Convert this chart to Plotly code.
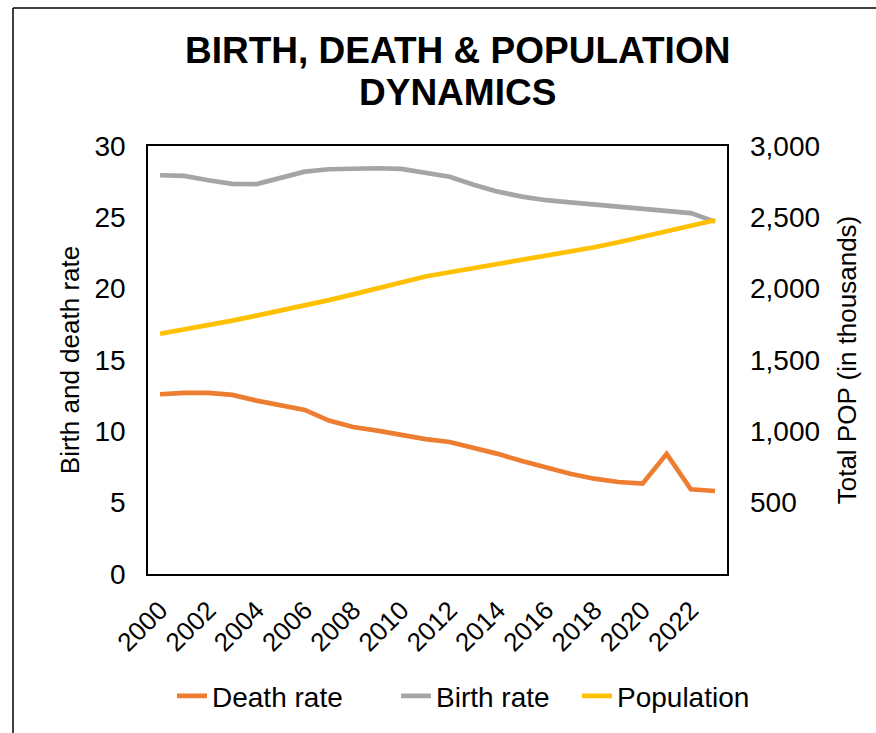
import plotly.graph_objects as go

years = list(range(2000, 2024))
death_rate = [12.6, 12.7, 12.7, 12.55, 12.15, 11.8, 11.5, 10.75, 10.3, 10.05, 9.72, 9.45,
              9.25, 8.85, 8.42, 7.92, 7.45, 7.03, 6.68, 6.45, 6.33, 8.42, 5.94, 5.82]
birth_rate = [27.95, 27.9, 27.6, 27.35, 27.33, 27.75, 28.2, 28.37, 28.44, 28.44, 28.4, 28.15,
              27.85, 27.28, 26.8, 26.45, 26.2, 26.05, 25.9, 25.77, 25.55, 25.47, 25.3, 24.7]
population = [1684, 1713, 1742, 1776, 1811, 1846, 1881, 1920, 1960, 2003, 2045, 2085,
              2115, 2143, 2170, 2198, 2226, 2256, 2290, 2325, 2365, 2405, 2445, 2480]
right_ticks = [500, 1000, 1500, 2000, 2500, 3000]
title_lines = ["BIRTH, DEATH & POPULATION", "DYNAMICS"]

FONT = "Liberation Sans, Arial, sans-serif"

fig = go.Figure()
fig.add_trace(go.Scatter(x=years, y=death_rate, name="Death rate", mode="lines",
                         line=dict(color="#ED7D31", width=4.7), legendwidth=179))
fig.add_trace(go.Scatter(x=years, y=birth_rate, name="Birth rate", mode="lines",
                         line=dict(color="#A5A5A5", width=4.7), legendwidth=136))
fig.add_trace(go.Scatter(x=years, y=population, name="Population", mode="lines",
                         line=dict(color="#FFC000", width=4.7), yaxis="y2"))

ml, mr, mt, mb = 148, 149, 146, 156
W, H = 876, 733
pw, ph = W - ml - mr, H - mt - mb

def px_x(p):
    return (p - ml) / pw

def px_y(p):
    return (H - mb - p) / ph

annotations = [
    dict(text="<b>%s</b>" % title_lines[0], xref="paper", yref="paper",
         x=px_x(457), y=px_y(50), xanchor="center", yanchor="middle", showarrow=False,
         font=dict(family=FONT, size=37, color="#000000")),
    dict(text="<b>%s</b>" % title_lines[1], xref="paper", yref="paper",
         x=px_x(457), y=px_y(92), xanchor="center", yanchor="middle", showarrow=False,
         font=dict(family=FONT, size=37, color="#000000")),
]

fig.update_layout(
    width=W, height=H,
    margin=dict(l=ml, r=mr, t=mt, b=mb),
    paper_bgcolor="white", plot_bgcolor="white",
    font=dict(family=FONT, size=26, color="#000000"),
    annotations=annotations,
    xaxis=dict(range=[1999.5, 2023.5], tickmode="linear", tick0=2000, dtick=2,
               tickangle=-45, showgrid=False, zeroline=False, ticks="",
               showline=True, mirror=True, linecolor="#000000", linewidth=1.5,
               tickfont=dict(size=26), ticklabelstandoff=9),
    yaxis=dict(range=[0, 30], dtick=5, showgrid=False, zeroline=False, ticks="",
               showline=True, mirror=True, linecolor="#000000", linewidth=1.5,
               title=dict(text="Birth and death rate", standoff=7, font=dict(size=26)),
               tickfont=dict(size=28), ticklabelstandoff=15),
    yaxis2=dict(range=[0, 3000], overlaying="y", side="right", tickvals=right_ticks,
                tickformat=",", showgrid=False, zeroline=False, ticks="",
                title=dict(text="Total POP (in thousands)", standoff=18, font=dict(size=26)),
                tickfont=dict(size=28), ticklabelstandoff=22),
    legend=dict(orientation="h", x=px_x(172), xanchor="left", y=px_y(700), yanchor="middle",
                font=dict(size=28), itemwidth=30, bgcolor="rgba(0,0,0,0)"),
    showlegend=True,
    shapes=[
        dict(type="line", xref="paper", yref="paper", x0=px_x(13), x1=px_x(13),
             y0=px_y(740), y1=px_y(7), line=dict(color="#000000", width=1.5)),
        dict(type="line", xref="paper", yref="paper", x0=px_x(13), x1=px_x(880),
             y0=px_y(7), y1=px_y(7), line=dict(color="#000000", width=1.5)),
    ],
)

fig.write_html("out.html")
